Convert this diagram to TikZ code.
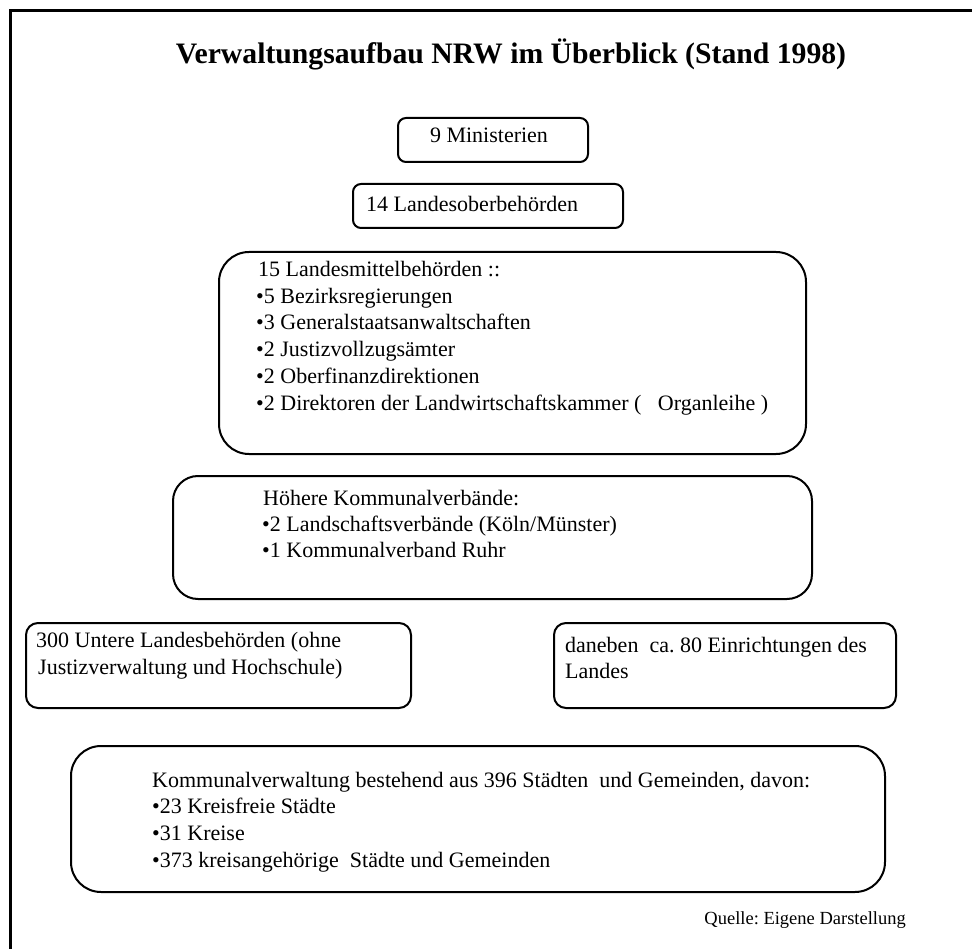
\documentclass[tikz,border=0pt]{standalone}
\usepackage{fontspec}
\setmainfont{Liberation Serif}
\frenchspacing
\begin{document}
\begin{tikzpicture}[x=1pt,y=-1pt,
  box/.style={draw, line width=2pt, rounded corners=#1, inner sep=0pt, anchor=north west},
  txt/.style={anchor=base west, inner sep=0pt, font=\fontsize{22}{26.6}\selectfont},
  ttl/.style={anchor=base, inner sep=0pt, font=\fontsize{29.7}{34}\selectfont\bfseries},
  src/.style={anchor=base east, inner sep=0pt, font=\fontsize{18.5}{22}\selectfont},
]
\useasboundingbox (0,0) rectangle (972,949);
\coordinate (fb) at (10,949);
\coordinate (fc) at (10,11);
\coordinate (fr) at (972,11);
\draw[line width=3pt] (fb) -- (fc) -- (fr);

\node[ttl] (title) at (511,64) {Verwaltungsaufbau NRW im Überblick (Stand 1998)};

% boxes
\node[box=8pt, minimum width=190pt, minimum height=44pt] (b1) at (397,117) {};
\node[box=8pt, minimum width=270pt, minimum height=44pt] (b2) at (352,183) {};
\node[box=30pt, minimum width=587pt, minimum height=202pt] (b3) at (218,251) {};
\node[box=25pt, minimum width=639pt, minimum height=123pt] (b4) at (172,475) {};
\node[box=12pt, minimum width=385pt, minimum height=85pt] (b5) at (25,622) {};
\node[box=12pt, minimum width=342pt, minimum height=85pt] (b6) at (553,622) {};
\node[box=30pt, minimum width=814pt, minimum height=146pt] (b7) at (70,745) {};

% texts
\node[txt, anchor=base] (t1) at (489,143) {9 Ministerien};
\node[txt] (t2) at (366,212) {14 Landesoberbehörden};

\node[txt] (t3a) at (258,277) {15 Landesmittelbehörden ::};
\node[txt] (t3b) at (256,304) {•5 Bezirksregierungen};
\node[txt] (t3c) at (256,330) {•3 Generalstaatsanwaltschaften};
\node[txt] (t3d) at (256,357) {•2 Justizvollzugsämter};
\node[txt] (t3e) at (256,384) {•2 Oberfinanzdirektionen};
\node[txt] (t3f) at (256,410) {•2 Direktoren der Landwirtschaftskammer (\ \ \ Organleihe )};

\node[txt] (t4a) at (263,505) {Höhere Kommunalverbände:};
\node[txt] (t4b) at (262,531) {•2 Landschaftsverbände (Köln/Münster)};
\node[txt] (t4c) at (262,557) {•1 Kommunalverband Ruhr};

\node[txt] (t5a) at (36,647) {300 Untere Landesbehörden (ohne};
\node[txt] (t5b) at (38,674) {Justizverwaltung und Hochschule)};

\node[txt] (t6a) at (565,652) {daneben\ \ ca. 80 Einrichtungen des};
\node[txt] (t6b) at (565,678) {Landes};

\node[txt] (t7a) at (152,787) {Kommunalverwaltung bestehend aus 396 Städten\ \ und Gemeinden, davon:};
\node[txt] (t7b) at (152,813) {•23 Kreisfreie Städte};
\node[txt] (t7c) at (152,840) {•31 Kreise};
\node[txt] (t7d) at (152,867) {•373 kreisangehörige\ \ Städte und Gemeinden};

\node[src] (q) at (906,924) {Quelle: Eigene Darstellung};
\end{tikzpicture}
\end{document}
